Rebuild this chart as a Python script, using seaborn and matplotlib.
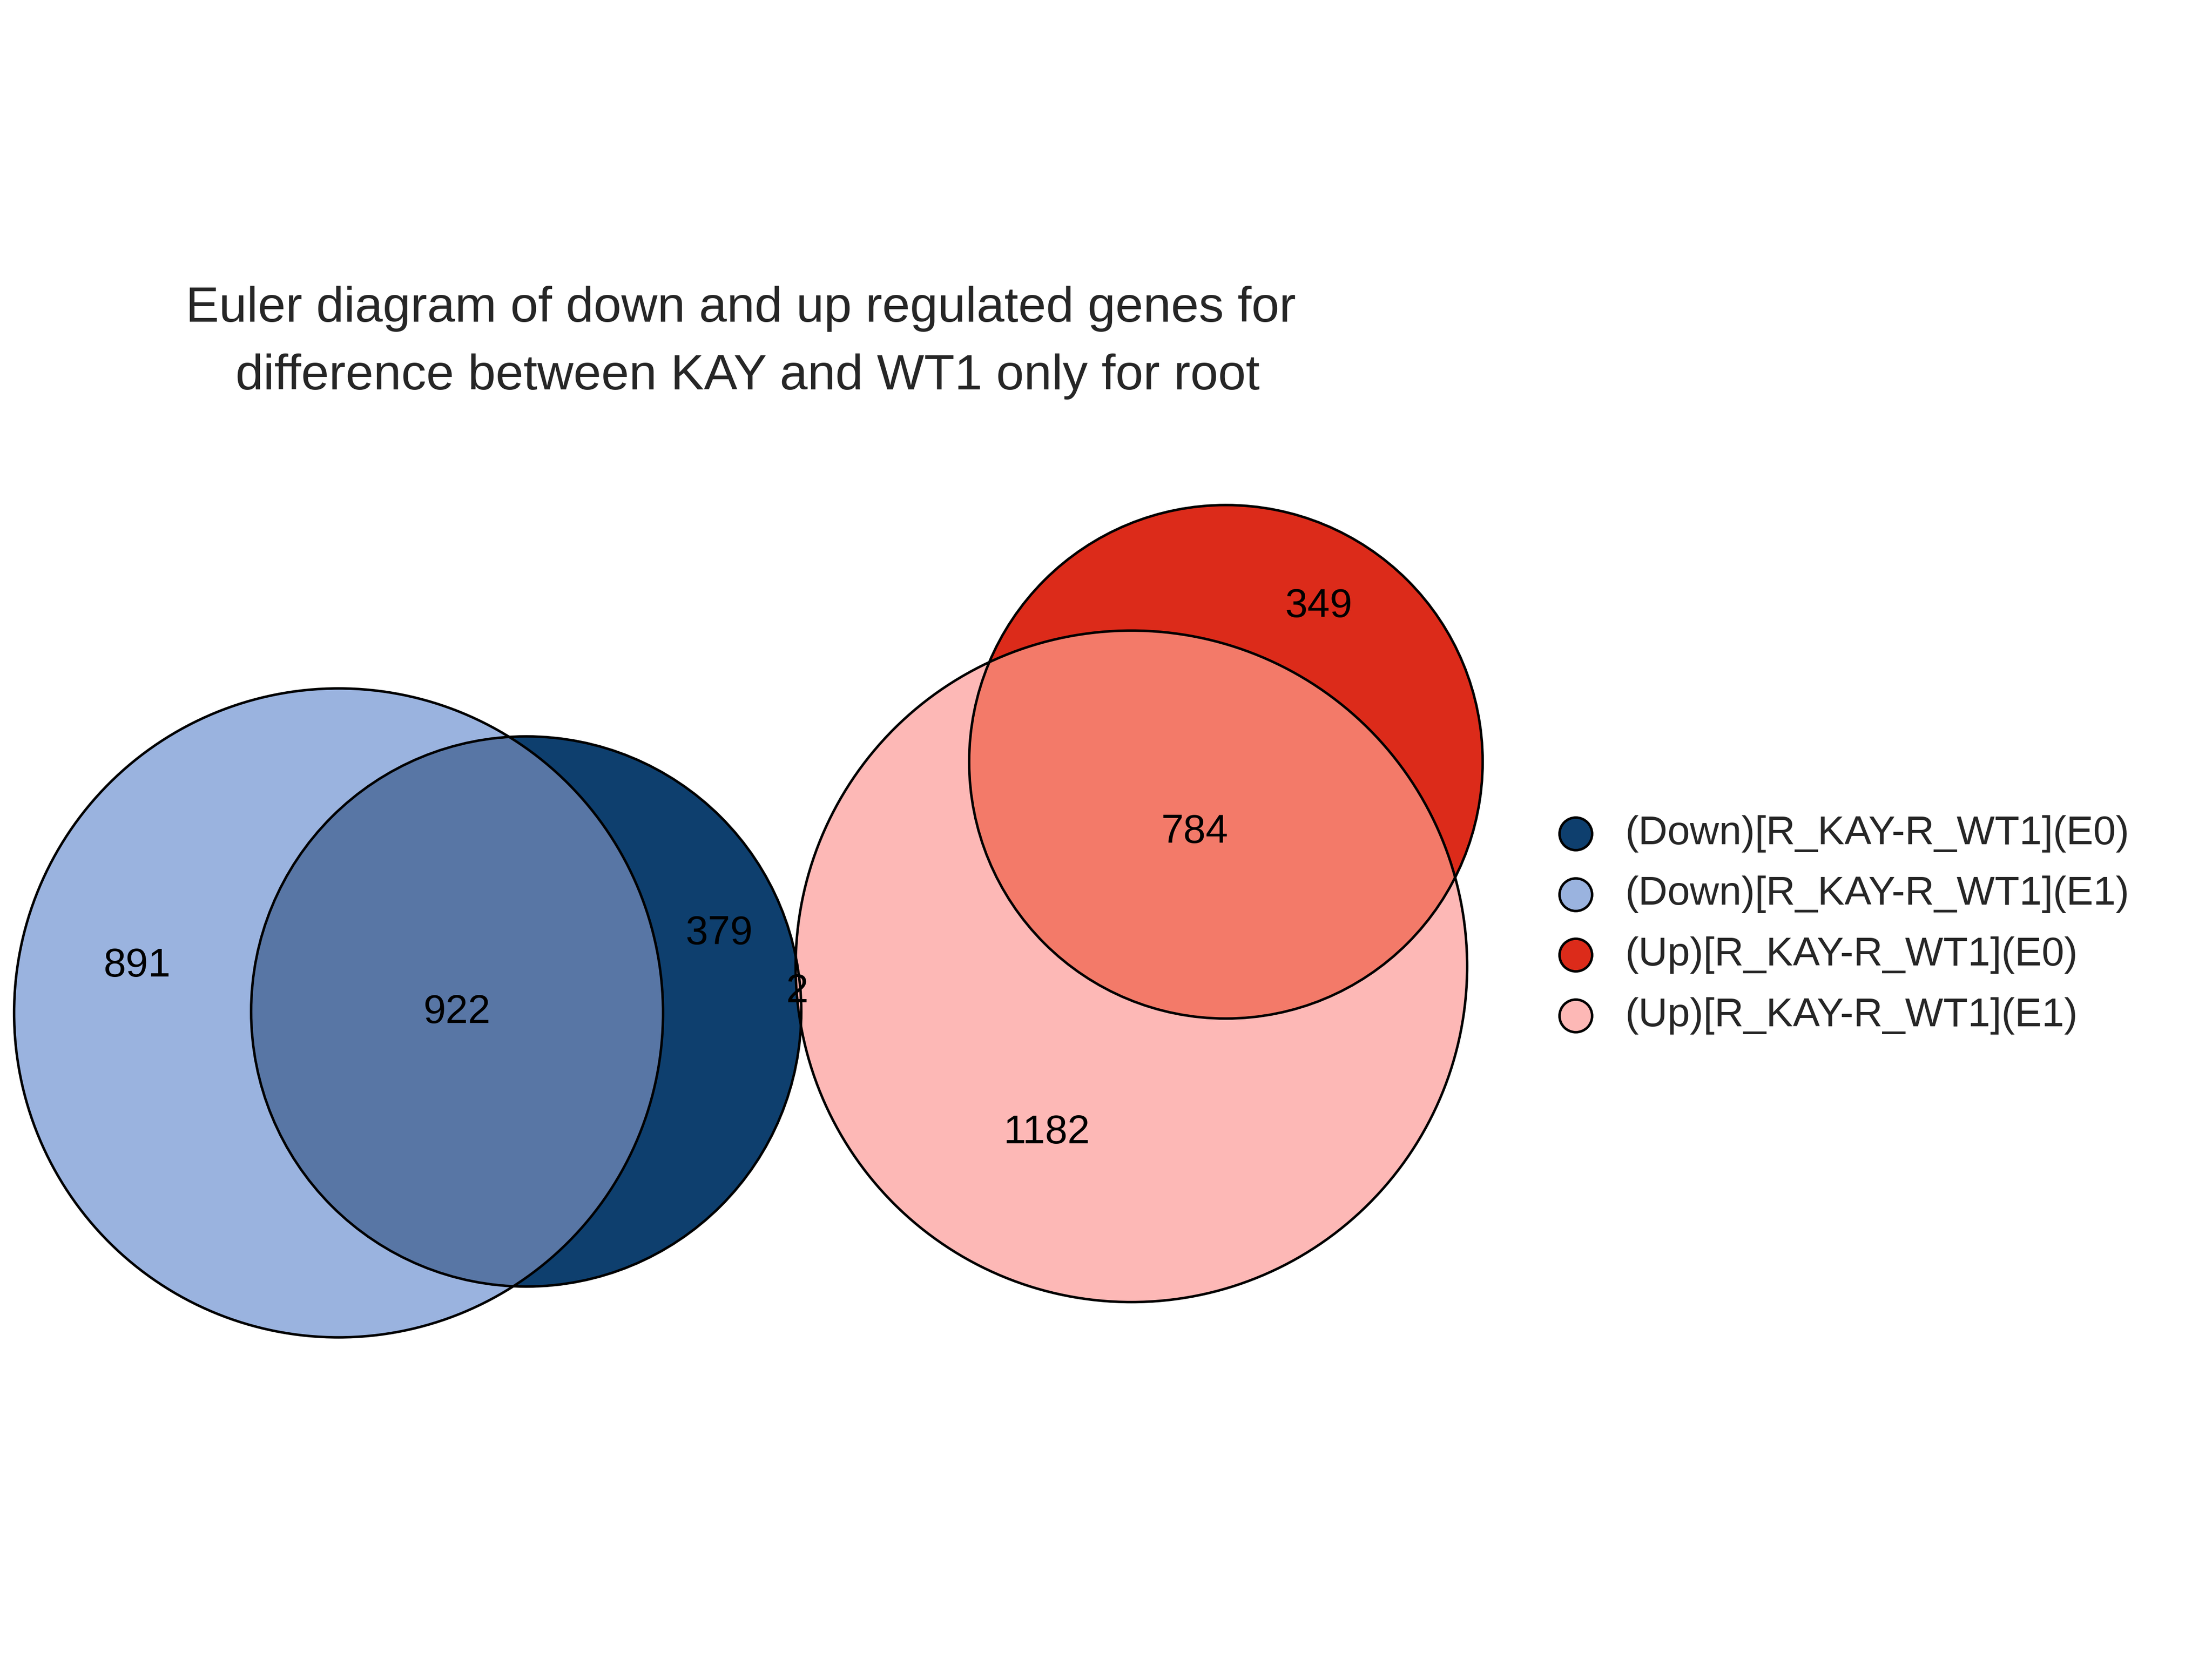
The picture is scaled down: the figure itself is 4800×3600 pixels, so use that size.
import matplotlib
matplotlib.use("Agg")
import matplotlib.pyplot as plt
from matplotlib.patches import Circle
from matplotlib.lines import Line2D
import seaborn as sns

sns.set_theme(style="white")
plt.rcParams['font.family'] = ['Liberation Sans', 'DejaVu Sans']

set_names = ["(Down)[R_KAY-R_WT1](E0)", "(Down)[R_KAY-R_WT1](E1)",
             "(Up)[R_KAY-R_WT1](E0)", "(Up)[R_KAY-R_WT1](E1)"]
set_colors = ["#0E3F6E", "#9AB3DF", "#DC2B1A", "#FDB8B6"]
region_labels = ["891", "922", "379", "2", "349", "784", "1182"]
overlap_colors = ["#5876A5", "#F37A69"]

# layout (canvas units, 1568 x 1176)
circles = {0: (373, 717, 195), 1: (240, 718, 230), 2: (869, 540, 182), 3: (802, 685, 238)}
label_pos = [(97, 685), (324, 718), (510, 662), (565, 703), (935, 430), (847, 590), (742, 803)]

fig = plt.figure(figsize=(16, 12), dpi=300)
ax = fig.add_axes([0, 0, 1, 1])
ax.set_xlim(0, 1568)
ax.set_ylim(1176, 0)
ax.set_aspect('equal')
ax.axis('off')

def circ(i, **kw):
    x, y, r = circles[i]
    return Circle((x, y), r, **kw)

for i in [1, 0, 3, 2]:
    ax.add_patch(circ(i, facecolor=set_colors[i], edgecolor='none'))
for (a, b), col in zip([(0, 1), (2, 3)], overlap_colors):
    p = circ(a, facecolor=col, edgecolor='none')
    ax.add_patch(p)
    clip = circ(b, transform=ax.transData)
    p.set_clip_path(clip)
for i in range(4):
    ax.add_patch(circ(i, facecolor='none', edgecolor='black', lw=1.3))

for t, (x, y) in zip(region_labels, label_pos):
    ax.text(x, y, t, ha='center', va='center', fontsize=21, color='black')

ax.text(525, 243, "Euler diagram of down and up regulated genes for\n difference between KAY and WT1 only for root",
        ha='center', va='center', fontsize=26, linespacing=1.6)

for k, (name, col) in enumerate(zip(set_names, set_colors)):
    y = 591 + k * 43
    ax.add_line(Line2D([1117], [y], marker='o', markersize=17, markerfacecolor=col,
                       markeredgecolor='black', markeredgewidth=1.3, linestyle='none'))
    ax.text(1152, y, name, ha='left', va='center', fontsize=21)

fig.savefig("out.png", dpi=300)
